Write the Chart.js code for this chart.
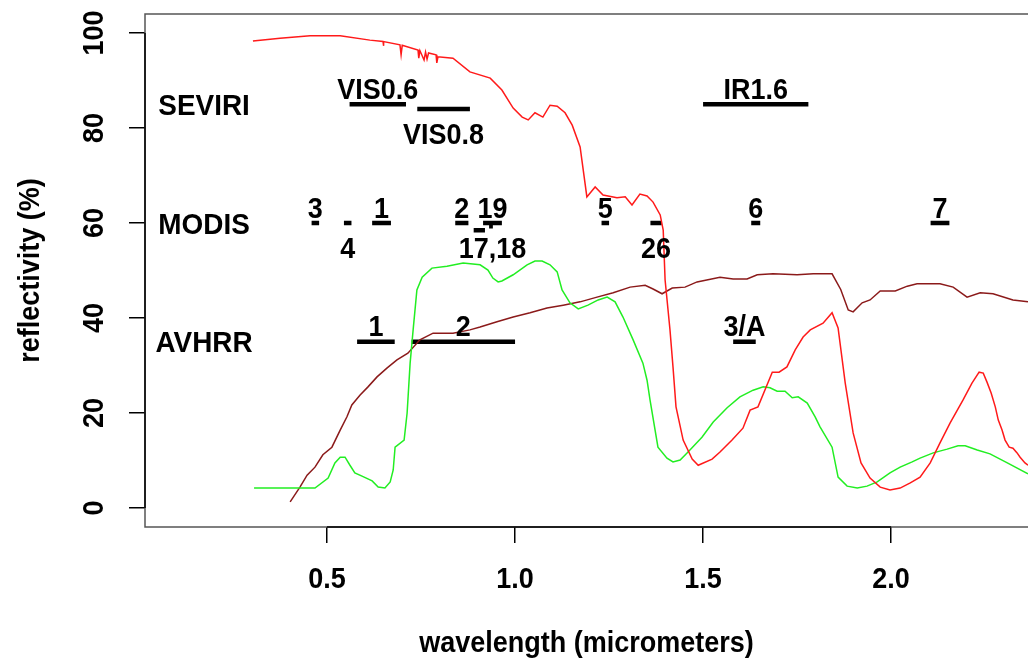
<!DOCTYPE html>
<html lang="en">
<head>
<meta charset="UTF-8">
<title>Reflectivity spectra and satellite bands</title>
<script src="https://cdn.jsdelivr.net/npm/chart.js"></script>
<style>
    body { margin: 0; background: #fff; overflow: hidden; }
    #wrap { width: 1028px; height: 663px; }
</style>
</head>
<body>
<div id="wrap"><canvas id="chart" width="1028" height="663"></canvas></div>
<script>
// ---- spectra ----
const snowWl = [0.303, 0.375, 0.455, 0.535, 0.614, 0.649, 0.650, 0.651, 0.694, 0.697, 0.700, 0.742, 0.744, 0.747,
    0.758, 0.762, 0.766, 0.770, 0.790, 0.792, 0.795, 0.835, 0.880, 0.934, 0.965, 0.995, 1.019, 1.035, 1.053, 1.074,
    1.093, 1.112, 1.133, 1.152, 1.173, 1.191, 1.213, 1.234, 1.271, 1.293, 1.311, 1.332, 1.351, 1.367, 1.386, 1.394,
    1.399, 1.412, 1.420, 1.428, 1.447, 1.471, 1.487, 1.524, 1.545, 1.577, 1.606, 1.625, 1.646, 1.684, 1.702, 1.723,
    1.745, 1.766, 1.785, 1.819, 1.843, 1.859, 1.878, 1.899, 1.920, 1.944, 1.971, 1.997, 2.024, 2.051, 2.077, 2.104,
    2.130, 2.157, 2.191, 2.215, 2.234, 2.245, 2.255, 2.266, 2.277, 2.285, 2.295, 2.303, 2.314, 2.324, 2.335, 2.343,
    2.356, 2.364];
const snowRefl = [98.3, 98.9, 99.4, 99.4, 98.5, 98.2, 97.3, 98.2, 97.5, 95.4, 97.4, 96.4, 94.7, 96.3,
    94.3, 96.0, 94.5, 95.8, 95.4, 93.7, 95.0, 94.7, 91.8, 90.5, 88.0, 84.2, 82.3, 81.7, 83.2, 82.3,
    84.8, 84.6, 83.2, 80.6, 76.0, 65.5, 67.6, 65.9, 65.3, 65.5, 63.8, 66.1, 65.7, 64.4, 61.7, 58.5,
    48.0, 37.5, 29.7, 21.3, 14.3, 10.3, 9.0, 10.3, 11.8, 14.3, 16.8, 20.6, 21.3, 28.6, 28.6, 29.7,
    33.3, 36.0, 37.5, 38.9, 41.1, 37.9, 26.3, 15.8, 9.5, 6.3, 4.4, 3.8, 4.2, 5.3, 6.5, 9.5,
    13.7, 17.9, 22.7, 26.3, 28.6, 28.4, 26.5, 24.2, 21.3, 18.5, 16.4, 14.3, 12.8, 12.6, 11.6, 10.7,
    9.5, 9.0];

const grassWl = [0.306, 0.468, 0.503, 0.521, 0.535, 0.548, 0.561, 0.574, 0.593, 0.620, 0.636, 0.654, 0.668, 0.676,
    0.681, 0.705, 0.713, 0.721, 0.729, 0.739, 0.753, 0.779, 0.819, 0.862, 0.907, 0.928, 0.941, 0.955, 0.965, 0.995,
    1.032, 1.053, 1.072, 1.093, 1.112, 1.125, 1.146, 1.168, 1.194, 1.221, 1.245, 1.266, 1.287, 1.314, 1.340, 1.351,
    1.359, 1.380, 1.404, 1.420, 1.439, 1.460, 1.497, 1.527, 1.564, 1.598, 1.633, 1.660, 1.678, 1.697, 1.718, 1.737,
    1.753, 1.777, 1.798, 1.811, 1.843, 1.859, 1.883, 1.910, 1.936, 1.963, 1.997, 2.024, 2.056, 2.077, 2.112, 2.149,
    2.178, 2.197, 2.229, 2.263, 2.309, 2.364];
const grassRefl = [4.2, 4.2, 6.3, 9.5, 10.7, 10.7, 9.0, 7.4, 6.7, 5.7, 4.4, 4.2, 5.5, 8.0,
    12.8, 14.3, 20.0, 30.5, 37.5, 45.9, 48.6, 50.5, 50.9, 51.6, 51.2, 50.1, 48.4, 47.6, 47.8, 49.1,
    51.2, 52.0, 52.0, 51.2, 49.7, 45.9, 43.2, 41.9, 42.7, 43.8, 44.4, 43.4, 40.2, 35.4, 30.5, 26.9,
    22.7, 12.8, 10.5, 9.7, 10.1, 11.8, 14.9, 18.1, 21.1, 23.4, 24.8, 25.5, 25.3, 24.6, 24.6, 23.2,
    23.4, 22.1, 19.2, 17.1, 12.8, 6.5, 4.6, 4.2, 4.6, 5.5, 7.4, 8.6, 9.7, 10.5, 11.6, 12.4,
    13.1, 13.1, 12.2, 11.4, 9.5, 7.2];

const soilWl = [0.402, 0.428, 0.447, 0.468, 0.489, 0.513, 0.535, 0.553, 0.566, 0.588, 0.609, 0.633, 0.660, 0.686,
    0.715, 0.747, 0.782, 0.835, 0.880, 0.907, 0.952, 0.995, 1.040, 1.085, 1.128, 1.173, 1.218, 1.261, 1.306, 1.346,
    1.367, 1.391, 1.418, 1.452, 1.484, 1.545, 1.580, 1.617, 1.644, 1.686, 1.750, 1.793, 1.843, 1.866, 1.886, 1.899,
    1.923, 1.944, 1.971, 2.011, 2.043, 2.069, 2.130, 2.165, 2.202, 2.237, 2.271, 2.324, 2.364];
const soilRefl = [1.3, 4.4, 6.9, 8.6, 11.2, 12.8, 16.4, 19.2, 21.7, 23.8, 25.5, 27.6, 29.5, 31.2,
    32.6, 35.4, 36.8, 36.8, 37.5, 38.1, 39.2, 40.2, 41.1, 42.1, 42.7, 43.4, 44.4, 45.3, 46.5, 46.9,
    46.1, 45.1, 46.3, 46.5, 47.6, 48.6, 48.2, 48.2, 49.1, 49.3, 49.1, 49.3, 49.3, 46.0, 41.7, 41.3,
    43.2, 43.8, 45.7, 45.7, 46.7, 47.2, 47.2, 46.5, 44.4, 45.3, 45.1, 43.8, 43.4];

// ---- instrument bands (micrometers) ----
const seviriNames = ['VIS0.6', 'VIS0.8', 'IR1.6'];
const seviriFrom  = [0.56, 0.74, 1.50];
const seviriTo    = [0.71, 0.88, 1.78];
const seviriLevel = [85, 84, 85];
const seviriSide  = ['above', 'below', 'above'];

const modisFrom  = [0.620, 0.841, 0.459, 0.545, 1.230, 1.628, 2.105, 0.890, 0.931, 0.915, 1.360];
const modisTo    = [0.670, 0.876, 0.479, 0.565, 1.250, 1.652, 2.155, 0.920, 0.941, 0.965, 1.390];
const modisLevel = [60, 60, 60, 60, 60, 60, 60, 58.5, 59.3, 60, 60];
const modisText  = ['3', '4', '1', '2', '19', '17,18', '5', '26', '6', '7'];
const modisTextX = [0.469, 0.555, 0.645, 0.8585, 0.94, 0.94, 1.24, 1.375, 1.64, 2.13];
const modisSide  = ['above', 'below', 'above', 'above', 'above', 'below', 'above', 'below', 'above', 'above'];

const avhrrNames = ['1', '2', '3/A'];
const avhrrFrom  = [0.58, 0.725, 1.58];
const avhrrTo    = [0.68, 1.00, 1.64];
const avhrrLevel = [35, 35, 35];

const rowNames  = ['SEVIRI', 'MODIS', 'AVHRR'];
const rowLevels = [85, 60, 35];
const rowNameX  = 0.173;

const xTicks = [0.5, 1.0, 1.5, 2.0];
const xTickLabels = ['0.5', '1.0', '1.5', '2.0'];
const yTicks = [0, 20, 40, 60, 80, 100];
const yTickLabels = ['0', '20', '40', '60', '80', '100'];

// ---- helpers ----
function toPoints(xs, ys) {
    return xs.map((x, i) => ({ x: x, y: ys[i] }));
}

function segments(from, to, level) {
    const pts = [];
    from.forEach((f, i) => {
        pts.push({ x: f, y: level[i] });
        pts.push({ x: to[i], y: level[i] });
        pts.push({ x: to[i], y: null });
    });
    return pts;
}

function curve(label, pts, color) {
    return { label: label, data: pts, borderColor: color, borderWidth: 1.5, pointRadius: 0, tension: 0, fill: false };
}

function bands(label, pts) {
    return { label: label, data: pts, borderColor: '#000', borderWidth: 4.5, pointRadius: 0, spanGaps: false, borderCapStyle: 'butt' };
}

const FONT = '"Liberation Sans", Arial, sans-serif';

function putText(ctx, str, x, y, size, rot, sx) {
    ctx.save();
    ctx.translate(x, y);
    if (rot) ctx.rotate(-Math.PI / 2);
    ctx.scale(sx || 0.93, 1);
    ctx.font = 'bold ' + size + 'px ' + FONT;
    ctx.fillStyle = '#000';
    ctx.textAlign = 'center';
    ctx.textBaseline = 'alphabetic';
    ctx.fillText(str, 0, 0);
    ctx.restore();
}

// box, axis lines and all the text
const decor = {
    id: 'decor',
    afterDraw(chart) {
        const ctx = chart.ctx;
        const a = chart.chartArea;
        const xs = chart.scales.x, ys = chart.scales.y;

        ctx.save();
        ctx.strokeStyle = '#555';
        ctx.lineWidth = 1.5;
        ctx.beginPath();
        ctx.moveTo(a.right + 5, a.top);
        ctx.lineTo(a.left, a.top);
        ctx.lineTo(a.left, a.bottom);
        ctx.lineTo(a.right + 5, a.bottom);
        ctx.stroke();
        ctx.strokeStyle = '#000';
        ctx.beginPath();
        ctx.moveTo(xs.getPixelForValue(xTicks[0]), a.bottom);
        ctx.lineTo(xs.getPixelForValue(xTicks[xTicks.length - 1]), a.bottom);
        ctx.moveTo(a.left, ys.getPixelForValue(yTicks[0]));
        ctx.lineTo(a.left, ys.getPixelForValue(yTicks[yTicks.length - 1]));
        ctx.stroke();
        ctx.restore();

        // tick labels
        xTicks.forEach((v, i) => putText(ctx, xTickLabels[i], xs.getPixelForValue(v), 588, 29));
        yTicks.forEach((v, i) => putText(ctx, yTickLabels[i], 103, ys.getPixelForValue(v), 29, true));

        // axis titles
        putText(ctx, 'wavelength (micrometers)', (a.left + a.right) / 2, 652, 30, false, 0.9);
        putText(ctx, 'reflectivity (%)', 39, (a.top + a.bottom) / 2, 30, true, 0.9);

        // row names
        rowNames.forEach((n, i) => putText(ctx, n, xs.getPixelForValue(rowNameX), ys.getPixelForValue(rowLevels[i]) + 10.5, 30));

        // band labels
        const lab = (t, x, level, side) => {
            const py = ys.getPixelForValue(level);
            putText(ctx, t, xs.getPixelForValue(x), side === 'above' ? py - 5.5 : py + 35, 29);
        };
        seviriNames.forEach((n, i) => lab(n, (seviriFrom[i] + seviriTo[i]) / 2, seviriLevel[i], seviriSide[i]));
        modisText.forEach((n, i) => lab(n, modisTextX[i], 60, modisSide[i]));
        avhrrNames.forEach((n, i) => lab(n, (avhrrFrom[i] + avhrrTo[i]) / 2, avhrrLevel[i], 'above'));
    }
};

const tickGrid = { drawOnChartArea: false, drawTicks: true, tickLength: 16, color: '#000', lineWidth: 1.5 };

new Chart(document.getElementById('chart').getContext('2d'), {
    type: 'line',
    data: {
        datasets: [
            curve('snow', toPoints(snowWl, snowRefl), '#ff1a1a'),
            curve('vegetation', toPoints(grassWl, grassRefl), '#22ee22'),
            curve('soil', toPoints(soilWl, soilRefl), '#8b1a1a'),
            bands('SEVIRI', segments(seviriFrom, seviriTo, seviriLevel)),
            bands('MODIS', segments(modisFrom, modisTo, modisLevel)),
            bands('AVHRR', segments(avhrrFrom, avhrrTo, avhrrLevel))
        ]
    },
    options: {
        responsive: false,
        animation: false,
        layout: { padding: { top: 14, left: 0, right: 0, bottom: 0 } },
        plugins: { legend: { display: false }, tooltip: { enabled: false } },
        scales: {
            x: {
                type: 'linear',
                min: 0.016,
                max: 2.364,
                afterBuildTicks: s => { s.ticks = xTicks.map(v => ({ value: v })); },
                afterFit: s => { s.height = 136; },
                ticks: { display: false },
                grid: tickGrid,
                border: { display: false }
            },
            y: {
                type: 'linear',
                min: -4,
                max: 104,
                afterBuildTicks: s => { s.ticks = yTicks.map(v => ({ value: v })); },
                afterFit: s => { s.width = 145; },
                ticks: { display: false },
                grid: tickGrid,
                border: { display: false }
            }
        }
    },
    plugins: [decor]
});
</script>
</body>
</html>
